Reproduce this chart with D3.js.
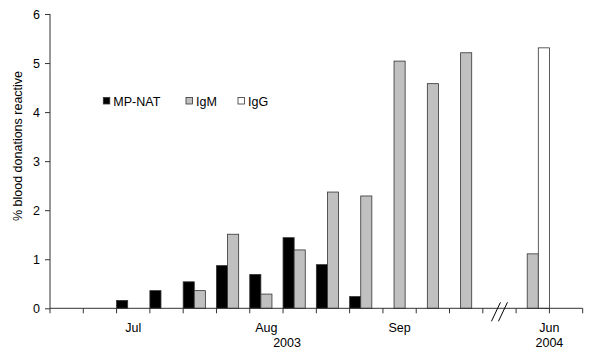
<!DOCTYPE html>
<html><head><meta charset="utf-8">
<script src="https://cdn.jsdelivr.net/npm/d3@7"></script>
<style>body{margin:0;background:#fff}text{font-family:"Liberation Sans",Arial,sans-serif}</style>
</head><body><svg id="c" width="600" height="357"></svg>
<script>
const categories = d3.range(16).map(String);
const mpnat = [0,0,0.16,0.36,0.54,0.87,0.69,1.44,0.89,0.24,0,0,0,0,0,0];
const igm   = [0,0,0,0,0.36,1.51,0.29,1.19,2.37,2.29,5.04,4.58,5.21,0,1.11,0];
const igg   = [0,0,0,0,0,0,0,0,0,0,0,0,0,0,5.31,0];
const seriesNames = ["MP-NAT","IgM","IgG"];
const seriesColors = ["#000000","#c0c0c0","#ffffff"];
const yTicks = [0,1,2,3,4,5,6];
const monthLabels = [{label:"Jul",cat:2,pos:0.5},{label:"Aug",cat:6,pos:0.5},{label:"Sep",cat:10,pos:0.5},{label:"Jun",cat:15,pos:0}];
const yearLabels = [{label:"2003",cat:7,pos:0.12},{label:"2004",cat:15,pos:0}];

const FS = 12.5;
const svg = d3.select("#c");
const x = d3.scaleBand().domain(categories).range([50,582.7]).padding(0);
const y = d3.scaleLinear().domain([0,6]).range([308.3,14]);
const xs = d3.scaleBand().domain(seriesNames).range([0,x.bandwidth()]).padding(0);

const data = [mpnat,igm,igg];
const g = svg.append("g");
data.forEach((arr,si)=>{
  g.selectAll(null).data(arr.map((v,i)=>({v,i}))).enter()
   .filter(d=>d.v>0)
   .append("rect")
   .attr("x",d=>x(categories[d.i])+xs(seriesNames[si]))
   .attr("width",xs.bandwidth())
   .attr("y",d=>y(d.v))
   .attr("height",d=>y(0)-y(d.v))
   .attr("fill",seriesColors[si])
   .attr("stroke","#333").attr("stroke-width",0.8);
});

// y axis
const ya = svg.append("g").attr("transform","translate(50,0)")
  .call(d3.axisLeft(y).tickValues(yTicks).tickSize(5).tickPadding(5).tickFormat(d3.format("d")));
ya.select(".domain").attr("d",`M0,${y(6)}V${y(0)}`).attr("stroke","#333");
ya.selectAll(".tick line").attr("stroke","#333");
ya.selectAll("text").attr("font-size",FS).attr("fill","#000").attr("font-family","Liberation Sans, Arial, sans-serif");

// x axis
const tickPos = categories.map(c=>x(c)).concat([x.range()[1]]);
const xa = svg.append("g");
xa.append("line").attr("x1",50).attr("x2",582.7).attr("y1",y(0)).attr("y2",y(0)).attr("stroke","#333");
xa.selectAll(null).data(tickPos).enter().append("line")
  .attr("x1",d=>d).attr("x2",d=>d).attr("y1",y(0)).attr("y2",y(0)+5).attr("stroke","#333");

// break marks
const bx = x("13")+x.bandwidth()/2;
[-3.5,3.5].forEach(o=>{
  svg.append("line").attr("x1",bx+o-4.5).attr("x2",bx+o+4.5).attr("y1",y(0)+13).attr("y2",y(0)-6)
    .attr("stroke","#000").attr("stroke-width",1);
});

svg.selectAll(null).data(monthLabels).enter().append("text")
  .attr("x",d=>x(categories[d.cat])+x.bandwidth()*d.pos).attr("y",332)
  .attr("text-anchor","middle").attr("font-size",FS).text(d=>d.label);
svg.selectAll(null).data(yearLabels).enter().append("text")
  .attr("x",d=>x(categories[d.cat])+x.bandwidth()*d.pos).attr("y",346.5)
  .attr("text-anchor","middle").attr("font-size",FS).text(d=>d.label);

svg.append("text").attr("transform","translate(22,146) rotate(-90)")
  .attr("text-anchor","middle").attr("font-size",FS).text("% blood donations reactive");

// legend
const legX = [103.3,186,238];
seriesNames.forEach((n,i)=>{
  svg.append("rect").attr("x",legX[i]).attr("y",97.5).attr("width",6.5).attr("height",6.5)
    .attr("fill",seriesColors[i]).attr("stroke","#333").attr("stroke-width",0.8);
  svg.append("text").attr("x",legX[i]+10).attr("y",106).attr("font-size",FS).text(n);
});
</script></body></html>
